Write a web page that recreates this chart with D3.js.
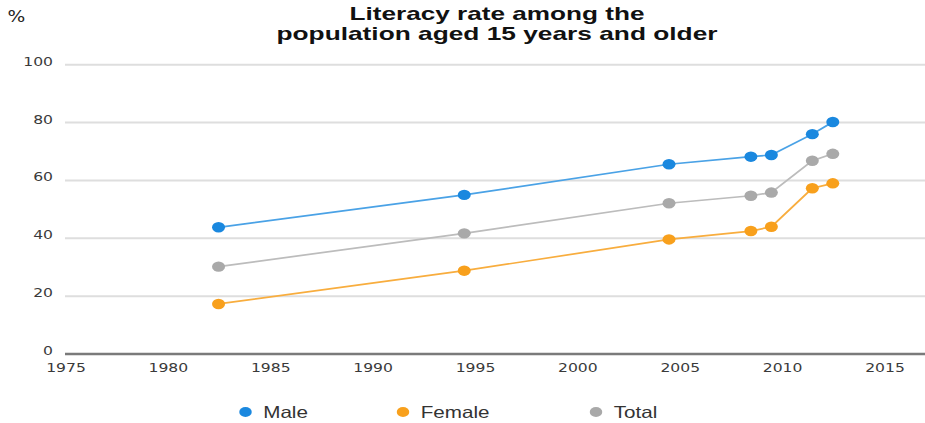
<!DOCTYPE html>
<html>
<head>
<meta charset="utf-8">
<script src="https://cdn.jsdelivr.net/npm/d3@7"></script>
<style>
  html, body { margin: 0; padding: 0; background: #fff; }
  svg { display: block; }
</style>
</head>
<body>
<div id="chart"></div>
<script>
// ---- data ----
const years = [1982, 1994, 2004, 2008, 2009, 2011, 2012];
const male   = [43.8, 55.0, 65.6, 68.2, 68.8, 76.0, 80.2];
const female = [17.3, 28.8, 39.6, 42.5, 44.0, 57.3, 59.0];
const total  = [30.2, 41.7, 52.1, 54.7, 55.8, 66.8, 69.2];
const seriesNames = ["Male", "Female", "Total"];
const xTicks = [1975, 1980, 1985, 1990, 1995, 2000, 2005, 2010, 2015];
const yTicks = [0, 20, 40, 60, 80, 100];
const titleLines = ["Literacy rate among the", "population aged 15 years and older"];
const yUnit = "%";

// ---- layout ----
const W = 925, H = 423;
const stretch = 1.25;              // the reference is stretched horizontally
const VW = W / stretch;
const colors = { Male: "#1a88df", Female: "#f8a01c", Total: "#a9a9a9" };
const lineColors = { Male: "#4aa2e6", Female: "#f8ad3e", Total: "#bcbcbc" };
const midYear = 0.45;

const svg = d3.select("#chart").append("svg")
  .attr("width", W).attr("height", H)
  .attr("viewBox", `0 0 ${VW} ${H}`)
  .attr("preserveAspectRatio", "none");

const x = d3.scaleLinear().domain([1975, 2015]).range([52.8, 708]);
const y = d3.scaleLinear().domain([0, 100]).range([354, 64.7]);
const plotLeft = 52, plotRight = VW;

// gridlines
svg.append("g").selectAll("line").data(yTicks.filter(d => d !== 0)).join("line")
  .attr("x1", plotLeft).attr("x2", plotRight)
  .attr("y1", d => y(d)).attr("y2", d => y(d))
  .attr("stroke", "#dedede").attr("stroke-width", 2);

// y labels
svg.append("g").selectAll("text").data(yTicks).join("text")
  .attr("x", 42.4).attr("y", d => y(d) + 1)
  .attr("text-anchor", "end")
  .attr("font-family", "DejaVu Sans").attr("font-size", 12.5)
  .attr("fill", "#3a3a3a")
  .text(d => d);

// x axis baseline
svg.append("line")
  .attr("x1", plotLeft).attr("x2", plotRight)
  .attr("y1", y(0)).attr("y2", y(0))
  .attr("stroke", "#7a7a7a").attr("stroke-width", 2.5);

// x labels
svg.append("g").selectAll("text").data(xTicks).join("text")
  .attr("x", d => x(d)).attr("y", 372.5)
  .attr("text-anchor", "middle")
  .attr("font-family", "DejaVu Sans").attr("font-size", 12.5)
  .attr("fill", "#3a3a3a")
  .text(d => d);

// unit
svg.append("text")
  .attr("x", 6).attr("y", 22)
  .attr("font-family", "DejaVu Sans").attr("font-size", 15)
  .attr("fill", "#222")
  .text(yUnit);

// title
const titleWidths = [236, 352.8];
svg.append("g").selectAll("text").data(titleLines).join("text")
  .attr("x", 397.6).attr("y", (d, i) => 20 + i * 20)
  .attr("text-anchor", "middle")
  .attr("font-family", "Liberation Sans, Arial, sans-serif")
  .attr("font-weight", "bold").attr("font-size", 18.5)
  .attr("textLength", (d, i) => titleWidths[i])
  .attr("lengthAdjust", "spacingAndGlyphs")
  .attr("fill", "#111")
  .text(d => d);

// series
const series = [
  { name: "Male", values: male },
  { name: "Female", values: female },
  { name: "Total", values: total }
];
const line = d3.line().x(d => x(d.year + midYear)).y(d => y(d.v));
series.forEach(s => {
  const pts = years.map((yr, i) => ({ year: yr, v: s.values[i] }));
  svg.append("path").datum(pts)
    .attr("d", line).attr("fill", "none")
    .attr("stroke", lineColors[s.name]).attr("stroke-width", 1.7);
  svg.append("g").selectAll("circle").data(pts).join("circle")
    .attr("cx", d => x(d.year + midYear)).attr("cy", d => y(d.v))
    .attr("r", 5.2).attr("fill", colors[s.name]);
});

// legend
const legendDotX = [196.4, 322.4, 476.8];
const legend = svg.append("g");
seriesNames.forEach((n, i) => {
  legend.append("circle")
    .attr("cx", legendDotX[i]).attr("cy", 412).attr("r", 5)
    .attr("fill", colors[n]);
  legend.append("text")
    .attr("x", legendDotX[i] + 14.2).attr("y", 418)
    .attr("font-family", "Liberation Sans, Arial, sans-serif")
    .attr("font-size", 16.5).attr("fill", "#333")
    .text(n);
});
</script>
</body>
</html>
